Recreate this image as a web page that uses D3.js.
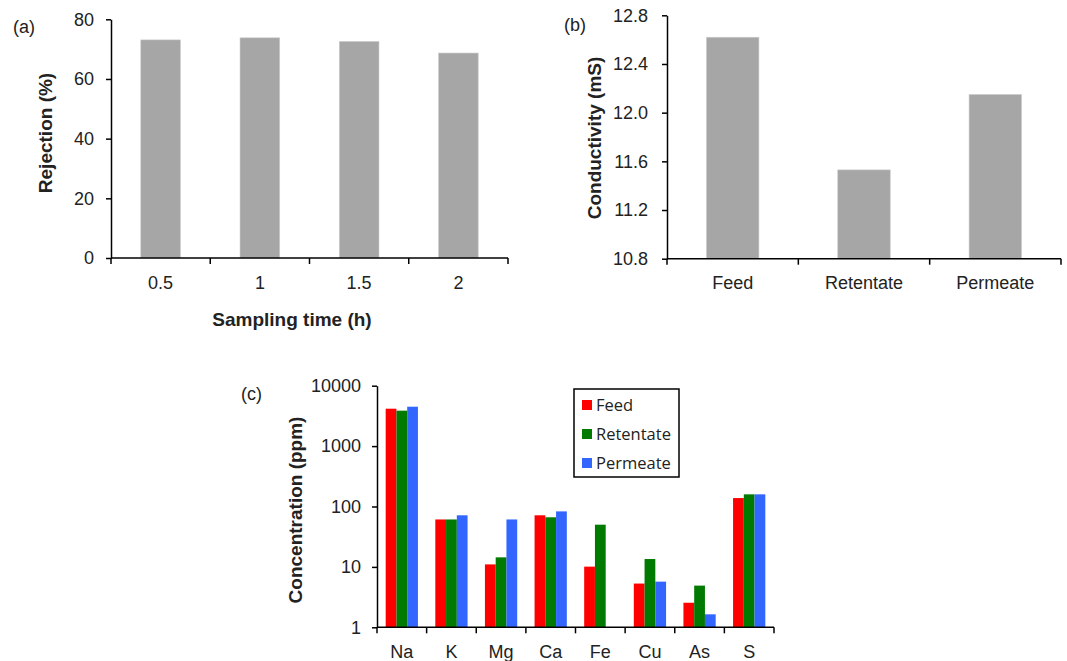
<!DOCTYPE html>
<html>
<head>
  <meta charset="utf-8">
  <title>Rejection, conductivity and concentration</title>
  <script src="https://d3js.org/d3.v7.min.js"></script>
  <style>
    body { margin: 0; background: #fff; }
    svg text { font-family: "Liberation Sans", Arial, sans-serif; fill: #222; }
    .axis path, .axis line { stroke: #000; stroke-width: 1.5px; }
    .tick text { font-size: 18px; }
    .titulo { font-size: 19px; font-weight: bold; }
    .painel { font-size: 18px; }
    .legenda text { font-family: "Open Sans", sans-serif; font-size: 16.5px; }
  </style>
</head>
<body>
<div id="chart"></div>
<script>
"use strict"

// (a) rejeicao
var tempos = ["0.5", "1", "1.5", "2"];
var rejeicao = [73.1, 73.8, 72.6, 68.7];

// (b) condutividade
var correntes = ["Feed", "Retentate", "Permeate"];
var condutividade = [12.62, 11.53, 12.15];
var ticksB = [10.8, 11.2, 11.6, 12.0, 12.4, 12.8];

// (c) concentracao
var elementos = ["Na", "K", "Mg", "Ca", "Fe", "Cu", "As", "S"];
var series = ["Feed", "Retentate", "Permeate"];
var feed = [4160, 61, 11.0, 71.5, 10.1, 5.3, 2.55, 138];
var retentate = [3860, 61, 14.4, 66.3, 50, 13.5, 4.9, 159];
var permeate = [4490, 71.5, 61, 83, null, 5.7, 1.64, 159];
var ticksC = [1, 10, 100, 1000, 10000];
var cores = ["#ff0000", "#007a00", "#3366ff"];

var svg = d3.select("#chart").append("svg")
  .attr("width", 1067).attr("height", 661);

// eixo x de categorias: rotulos no centro, marcas nas fronteiras
function eixoCategorias(g, x, y0, pad) {
  g.append("g").attr("class", "axis")
    .attr("transform", "translate(0," + y0 + ")")
    .call(d3.axisBottom(x).tickSize(0).tickPadding(pad))
    .call(s => s.select(".domain").remove());
  var r = x.range();
  var fronteiras = d3.range(x.domain().length + 1).map(i => r[0] + i * x.step());
  g.append("line").attr("x1", r[0]).attr("x2", r[1])
    .attr("y1", y0).attr("y2", y0).attr("stroke", "#000").attr("stroke-width", 1.5);
  g.selectAll(".fronteira").data(fronteiras).enter().append("line")
    .attr("x1", d => d).attr("x2", d => d)
    .attr("y1", y0).attr("y2", y0 + 6)
    .attr("stroke", "#000").attr("stroke-width", 1.5);
}

function barrasSimples(cats, vals, xr, yScale, eixoY, xPad) {
  var g = svg.append("g");
  var x = d3.scaleBand().domain(cats).range(xr).paddingInner(0.6).paddingOuter(0.3);
  var base = yScale.range()[0];
  g.selectAll("rect").data(vals).enter().append("rect")
    .attr("x", (d, i) => x(cats[i]))
    .attr("width", x.bandwidth())
    .attr("y", d => yScale(d))
    .attr("height", d => base - yScale(d))
    .attr("fill", "#a6a6a6").attr("stroke", "#cfcfcf").attr("stroke-width", 0.6);
  g.append("g").attr("class", "axis")
    .attr("transform", "translate(" + xr[0] + ",0)")
    .call(eixoY);
  eixoCategorias(g, x, base, xPad);
}

// painel (a)
var yA = d3.scaleLinear().domain([0, 80]).range([258, 19.3]);
barrasSimples(tempos, rejeicao, [111, 508], yA,
  d3.axisLeft(yA).ticks(5).tickFormat(d3.format("d")).tickSize(5).tickSizeOuter(0).tickPadding(12), 18);
svg.append("text").attr("class", "painel").attr("x", 13).attr("y", 33).text("(a)");
svg.append("text").attr("class", "titulo")
  .attr("transform", "translate(52,133) rotate(-90)").attr("text-anchor", "middle").text("Rejection (%)");
svg.append("text").attr("class", "titulo").attr("x", 292).attr("y", 326)
  .attr("text-anchor", "middle").text("Sampling time (h)");

// painel (b)
var yB = d3.scaleLinear().domain([10.8, 12.8]).range([258.7, 15.3]);
barrasSimples(correntes, condutividade, [667, 1061], yB,
  d3.axisLeft(yB).tickValues(ticksB).tickFormat(d3.format(".1f")).tickSize(5).tickSizeOuter(0).tickPadding(14), 18);
svg.append("text").attr("class", "painel").attr("x", 564).attr("y", 31).text("(b)");
svg.append("text").attr("class", "titulo")
  .attr("transform", "translate(601,138) rotate(-90)").attr("text-anchor", "middle").text("Conductivity (mS)");

// painel (c)
var gC = svg.append("g");
var xC = d3.scaleBand().domain(elementos).range([377, 774]).paddingInner(0.35).paddingOuter(0.175);
var xS = d3.scaleBand().domain(series).range([0, xC.bandwidth()]);
var yC = d3.scaleLog().domain([1, 10000]).range([627.3, 385.7]);
var valores = [feed, retentate, permeate];

series.forEach(function(s, j) {
  var pontos = elementos.map((e, i) => ({ el: e, v: valores[j][i] })).filter(p => p.v != null);
  gC.selectAll(".s" + j).data(pontos).enter().append("rect")
    .attr("class", "s" + j)
    .attr("x", p => xC(p.el) + xS(s))
    .attr("width", xS.bandwidth())
    .attr("y", p => yC(p.v))
    .attr("height", p => yC(1) - yC(p.v))
    .attr("fill", cores[j]);
});
gC.append("g").attr("class", "axis")
  .attr("transform", "translate(377,0)")
  .call(d3.axisLeft(yC).tickValues(ticksC).tickFormat(d3.format("d"))
    .tickSize(5).tickSizeOuter(0).tickPadding(11));
eixoCategorias(gC, xC, 627.3, 18);
svg.append("text").attr("class", "painel").attr("x", 241).attr("y", 400).text("(c)");
svg.append("text").attr("class", "titulo")
  .attr("transform", "translate(302,510) rotate(-90)").attr("text-anchor", "middle").text("Concentration (ppm)");

// legenda
var leg = svg.append("g").attr("class", "legenda").attr("transform", "translate(574,389)");
leg.append("rect").attr("width", 105).attr("height", 88)
  .attr("fill", "#fff").attr("stroke", "#000").attr("stroke-width", 1.5);
series.forEach(function(s, j) {
  leg.append("rect").attr("x", 8).attr("y", 11 + j * 29).attr("width", 10).attr("height", 10).attr("fill", cores[j]);
  leg.append("text").attr("x", 22).attr("y", 22 + j * 29).text(s);
});
</script>
</body>
</html>
